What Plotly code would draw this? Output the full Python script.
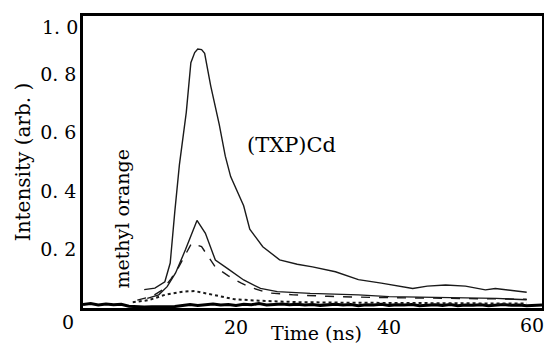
import plotly.graph_objects as go

# (TXP)Cd curve
txp_time = [8, 9.4, 10.7, 11.4, 12.0, 12.6, 13.5, 14.1, 14.6, 15.0, 15.5, 15.9, 16.7, 17.8, 18.6, 19.3,
            21.0, 21.8, 23.5, 25.7, 28, 30, 33, 36, 39, 41, 43.1, 45, 47.4, 50, 52.6, 53.9, 56, 58]
txp_int = [0.063, 0.068, 0.09, 0.154, 0.33, 0.49, 0.67, 0.84, 0.875, 0.887, 0.885, 0.872, 0.76, 0.63, 0.52, 0.45,
           0.35, 0.27, 0.21, 0.165, 0.15, 0.141, 0.124, 0.097, 0.085, 0.077, 0.067, 0.075, 0.079, 0.075, 0.062, 0.067, 0.06, 0.054]

# second solid curve
s2_time = [8.4, 9.9, 11, 12.1, 13.4, 14.9, 16, 17.3, 19, 21, 23.2, 25.4, 29.7, 36, 40, 45, 50, 54, 58]
s2_int = [0.033, 0.045, 0.073, 0.12, 0.20, 0.30, 0.256, 0.164, 0.133, 0.096, 0.067, 0.056, 0.05, 0.045, 0.039, 0.037, 0.036, 0.033, 0.028]

# dashed curve
dash_time = [7.1, 9, 10.4, 11.5, 12.5, 13.5, 14.2, 15.5, 16.5, 17.3, 19, 20.7, 22, 24.1, 27.5, 32, 38, 45, 52, 58]
dash_int = [0.027, 0.04, 0.062, 0.10, 0.14, 0.19, 0.222, 0.21, 0.17, 0.14, 0.11, 0.085, 0.07, 0.052, 0.045, 0.04, 0.036, 0.034, 0.033, 0.03]

# dotted curve
dot_time = [6.5, 8.6, 10.7, 13, 14.6, 17.2, 19.8, 23, 28, 35, 45, 58]
dot_int = [0.02, 0.027, 0.045, 0.056, 0.058, 0.045, 0.03, 0.025, 0.02, 0.018, 0.016, 0.015]

# methyl orange baseline
mo_int = [0.012, 0.015, 0.010, 0.014, 0.011, 0.013, 0.006, 0.004, 0.003, 0.004, 0.003, 0.004, 0.005, 0.008,
          0.012, 0.009, 0.011, 0.014, 0.010, 0.012, 0.009, 0.013, 0.011, 0.015, 0.010, 0.012, 0.014, 0.011,
          0.013, 0.010, 0.012, 0.009, 0.011, 0.013, 0.010, 0.012, 0.008, 0.011, 0.010, 0.013, 0.009, 0.011,
          0.010, 0.012, 0.008, 0.010, 0.011, 0.009, 0.012, 0.008, 0.010, 0.009, 0.011, 0.008, 0.010, 0.012,
          0.009, 0.010, 0.008, 0.009, 0.010]
mo_time = list(range(len(mo_int)))

y_ticks = [0.2, 0.4, 0.6, 0.8]
y_labels = ["0. 2", "0. 4", "0. 6", "0. 8"]
y_top_tick, y_top_label = 1.0, "1. 0"
x_ticks = [20, 40]
x_labels = ["20", "40"]
x_end_tick, x_end_label = 60, "60"
origin_label = "0"

FONT = "DejaVu Serif"
INK = "#1a1a1a"

fig = go.Figure()
fig.add_trace(go.Scatter(x=mo_time, y=mo_int, mode="lines", line=dict(color="black", width=3), hoverinfo="skip"))
fig.add_trace(go.Scatter(x=dot_time, y=dot_int, mode="lines", line=dict(color=INK, width=2, dash="dot")))
fig.add_trace(go.Scatter(x=dash_time, y=dash_int, mode="lines", line=dict(color=INK, width=1.4, dash="dash")))
fig.add_trace(go.Scatter(x=s2_time, y=s2_int, mode="lines", line=dict(color=INK, width=1.4)))
fig.add_trace(go.Scatter(x=txp_time, y=txp_int, mode="lines", line=dict(color=INK, width=1.4)))

fig.add_annotation(x=27.3, y=0.558, xref="x", yref="y", text="(TXP)Cd", showarrow=False,
                   font=dict(family=FONT, size=21, color="black"))
fig.add_annotation(x=5.05, y=0.305, xref="x", yref="y", text="methyl orange", showarrow=False, textangle=-90,
                   font=dict(family=FONT, size=19, color="black"))
fig.add_annotation(x=0, y=0, xref="x", yref="y", text=origin_label, showarrow=False, xanchor="center", yanchor="top",
                   xshift=-15, yshift=-1, font=dict(family=FONT, size=19, color="black"))
fig.add_annotation(x=0, y=y_top_tick, xref="x", yref="y", text=y_top_label, showarrow=False, xanchor="right",
                   yanchor="top", xshift=-3, yshift=2, font=dict(family=FONT, size=19, color="black"))
fig.add_annotation(x=x_end_tick, y=0, xref="x", yref="y", text=x_end_label, showarrow=False, xanchor="center",
                   yanchor="top", xshift=-10, yshift=-4, font=dict(family=FONT, size=19, color="black"))
fig.add_annotation(x=30.5, y=0, xref="x", yref="paper", text="Time (ns)", showarrow=False, xanchor="center",
                   yanchor="top", yshift=-12, font=dict(family=FONT, size=19, color="black"))

fig.update_layout(
    width=536, height=336,
    margin=dict(l=75, r=2, t=8, b=36),
    paper_bgcolor="white", plot_bgcolor="white",
    showlegend=False,
    font=dict(family=FONT, size=19, color="black"),
    xaxis=dict(range=[0, 60], tickvals=x_ticks, ticktext=x_labels, ticks="", showgrid=False, zeroline=False,
               showline=True, mirror=True, linecolor="black", linewidth=2.5, ticklabeloverflow="allow",
               automargin=False),
    yaxis=dict(range=[0, 1], tickvals=y_ticks, ticktext=y_labels, ticks="", showgrid=False, zeroline=False,
               showline=True, mirror=True, linecolor="black", linewidth=2.5, ticklabeloverflow="allow",
               title=dict(text="Intensity (arb. )", font=dict(family=FONT, size=20), standoff=5), automargin=False),
)

fig.write_html("out.html")
